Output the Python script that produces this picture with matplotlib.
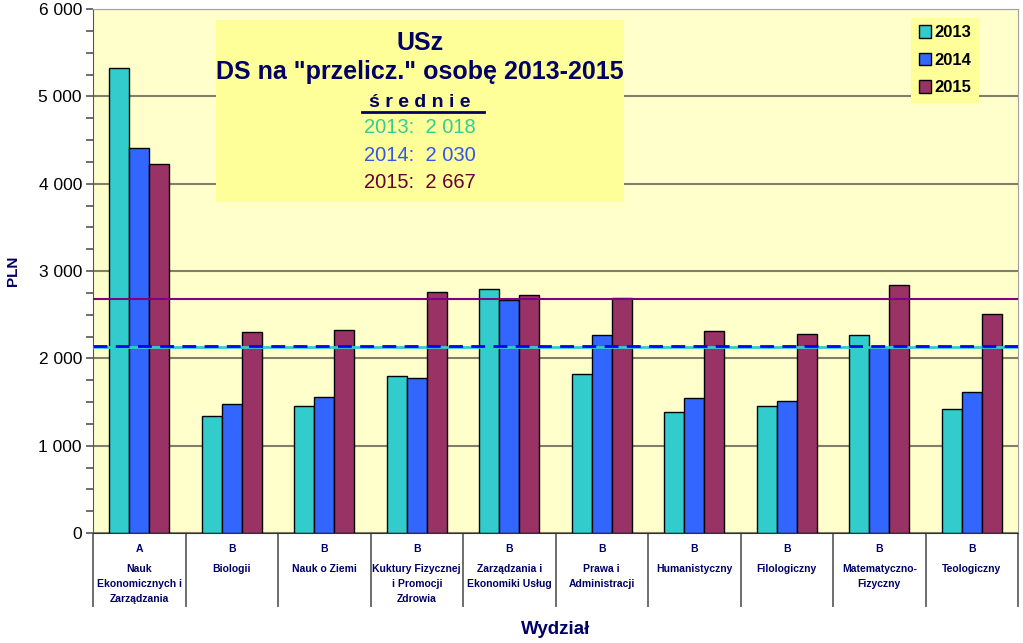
import numpy as np
import matplotlib
matplotlib.use('Agg')
import matplotlib.pyplot as plt
from matplotlib.ticker import FuncFormatter, MultipleLocator
from matplotlib.patches import Rectangle, Patch

plt.rcParams['font.family'] = ['Liberation Sans', 'DejaVu Sans']

categories = ['A', 'B', 'B', 'B', 'B', 'B', 'B', 'B', 'B', 'B']
faculties = ['Nauk\nEkonomicznych i\nZarządzania', 'Biologii', 'Nauk o Ziemi',
             'Kuktury Fizycznej\ni Promocji\nZdrowia', 'Zarządzania i\nEkonomiki Usług',
             'Prawa i\nAdministracji', 'Humanistyczny', 'Filologiczny',
             'Matematyczno-\nFizyczny', 'Teologiczny']
years = ['2013', '2014', '2015']
vals_2013 = [5320, 1345, 1452, 1800, 2792, 1822, 1380, 1452, 2267, 1423]
vals_2014 = [4413, 1480, 1552, 1780, 2673, 2267, 1544, 1514, 2126, 1609]
vals_2015 = [4225, 2305, 2324, 2761, 2723, 2692, 2316, 2278, 2841, 2507]
avg_lines = [2135, 2137, 2680]
avg_text = ['2 018', '2 030', '2 667']

colors = ['#33CCCC', '#3366FF', '#993366']
line_colors = ['#33CCCC', '#0000FF', '#800080']
text_colors = ['#33CC99', '#3355EE', '#660033']
navy = '#000066'

fig = plt.figure(figsize=(10.23, 6.43), dpi=100)
ax = fig.add_axes([93 / 1023, 1 - 533 / 643, 925 / 1023, 524 / 643])
ax.set_facecolor('#FFFFCC')

x = np.arange(len(categories))
w = 0.215
for i, vals in enumerate([vals_2013, vals_2014, vals_2015]):
    ax.bar(x + (i - 1) * w, vals, w, color=colors[i], edgecolor='black',
           linewidth=1, zorder=3)

ax.axhline(avg_lines[0], color=line_colors[0], lw=2, zorder=4)
ax.axhline(avg_lines[1], color=line_colors[1], lw=2, ls=(0, (5, 3)), zorder=4)
ax.axhline(avg_lines[2], color=line_colors[2], lw=1.5, zorder=4)

ax.set_xlim(-0.5, len(categories) - 0.5)
ax.set_ylim(0, 6000)
ax.yaxis.set_major_locator(MultipleLocator(1000))
ax.yaxis.set_minor_locator(MultipleLocator(250))
ax.yaxis.set_major_formatter(FuncFormatter(lambda v, p: '{:,.0f}'.format(v).replace(',', ' ')))
ax.grid(axis='y', which='major', color='#7F7F6A', lw=1.5, zorder=1)
ax.tick_params(axis='y', which='both', length=5, width=1.2, color='#555555',
               labelsize=12.5, pad=3)

# x axis: separators between categories, labels by hand
ax.set_xticks(x)
ax.set_xticklabels([])
ax.set_xticks(np.arange(len(categories) + 1) - 0.5, minor=True)
ax.tick_params(axis='x', which='major', length=0)
ax.tick_params(axis='x', which='minor', length=53, width=1.2, color='#555555')
for i in range(len(categories)):
    ax.text(x[i], -0.03, categories[i], transform=ax.get_xaxis_transform(),
            ha='center', va='center', fontsize=7.5, fontweight='bold', color=navy)
    ax.text(x[i], -0.060, faculties[i], transform=ax.get_xaxis_transform(),
            ha='center', va='top', fontsize=7.5, fontweight='bold', color=navy,
            linespacing=1.6)

for s in ['top', 'right']:
    ax.spines[s].set_color('#A0A0A0')
ax.spines['left'].set_color('#555555')
ax.spines['bottom'].set_color('#333333')
ax.spines['bottom'].set_zorder(5)

ax.set_ylabel('PLN', fontsize=11, fontweight='bold', color=navy, va='center')
ax.yaxis.set_label_coords(-0.087, 0.5)
ax.set_xlabel('Wydział', fontsize=13.5, fontweight='bold', color=navy, va='center')
ax.xaxis.set_label_coords(0.5, -0.185)

# title box
ax.add_patch(Rectangle((0.133, 0.632), 0.441, 0.347, transform=ax.transAxes,
                       facecolor='#FFFF99', edgecolor='none', zorder=6))
cx = 0.3535
ax.text(cx, 0.935, 'USz', transform=ax.transAxes, ha='center', va='center',
        fontsize=18, fontweight='bold', color=navy, zorder=7)
ax.text(cx, 0.880, 'DS na "przelicz." osobę 2013-2015', transform=ax.transAxes,
        ha='center', va='center', fontsize=18, fontweight='bold', color=navy, zorder=7)
ax.text(cx, 0.8225, 'ś r e d n i e', transform=ax.transAxes, ha='center', va='center',
        fontsize=14, fontweight='bold', color=navy, zorder=7)
ax.plot([0.291, 0.423], [0.803, 0.803], transform=ax.transAxes, color=navy, lw=2, zorder=7)
for i, yy in enumerate([0.773, 0.721, 0.668]):
    ax.text(cx, yy, years[i] + ':  ' + avg_text[i], transform=ax.transAxes,
            ha='center', va='center', fontsize=14.5, color=text_colors[i], zorder=7)

handles = [Patch(facecolor=colors[i], edgecolor='black', label=years[i]) for i in range(3)]
leg = ax.legend(handles=handles, loc='upper right', bbox_to_anchor=(0.958, 0.983),
                borderaxespad=0, prop={'weight': 'bold', 'size': 12},
                facecolor='#FFFF99', edgecolor='none', framealpha=1, fancybox=False,
                handlelength=0.75, handleheight=0.75, handletextpad=0.2,
                labelspacing=0.75, borderpad=0.45)
leg.set_zorder(8)

fig.savefig('out.png', dpi=100, facecolor='white')
